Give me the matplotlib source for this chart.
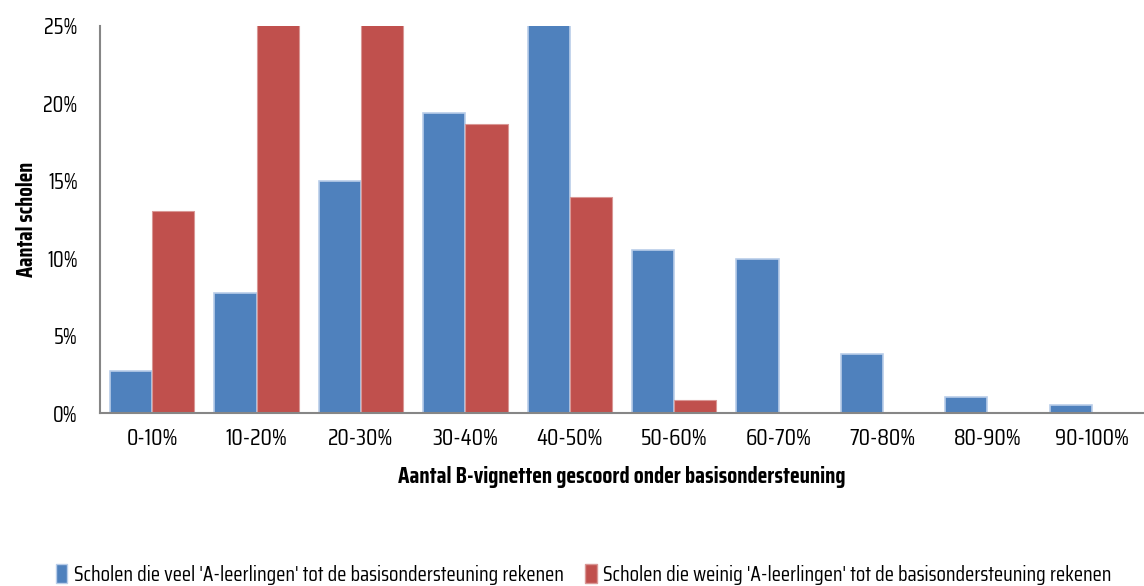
import numpy as np
import matplotlib
matplotlib.use("Agg")
import matplotlib.pyplot as plt
from matplotlib.patches import Patch

categories = ['0-10%', '10-20%', '20-30%', '30-40%', '40-50%',
              '50-60%', '60-70%', '70-80%', '80-90%', '90-100%']
veel = [2.7, 7.75, 15.0, 19.4, 27.0, 10.5, 9.95, 3.8, 1.03, 0.5]
weinig = [13.05, 27.0, 26.5, 18.7, 13.95, 0.85, 0, 0, 0, 0]
yticks = [0, 5, 10, 15, 20, 25]

label_veel = "Scholen die veel 'A-leerlingen' tot de basisondersteuning rekenen"
label_weinig = "Scholen die weinig 'A-leerlingen' tot de basisondersteuning rekenen"

plt.rcParams['font.family'] = ['Saira Condensed', 'DejaVu Sans']

blue = '#4f81bd'
red = '#c0504d'

fig = plt.figure(figsize=(11.44, 5.86), dpi=100)
ax = fig.add_axes([100 / 1144, 173 / 586, 1 - 100 / 1144, 387 / 586])

x = np.arange(len(categories))
w = 0.405
ax.bar(x - w / 2, veel, width=w, color=blue, edgecolor='#b9cde9', linewidth=1.2, zorder=2)
ax.bar(x + w / 2, weinig, width=w, color=red, edgecolor='#d99795', linewidth=0.8, zorder=2)

ax.set_xlim(-0.5, len(categories) - 0.5)
ax.set_ylim(0, 25)
ax.set_yticks(yticks)
ax.set_yticklabels([f'{t}%' for t in yticks], fontsize=16)
ax.set_xticks(x)
ax.set_xticklabels(categories, fontsize=17)
ax.tick_params(length=0)
ax.tick_params(axis='x', pad=11)
ax.tick_params(axis='y', pad=16)

for s in ['top', 'right']:
    ax.spines[s].set_visible(False)
for s in ['left', 'bottom']:
    ax.spines[s].set_color('#868686')
    ax.spines[s].set_linewidth(1.5)

ax.set_xlabel('Aantal B-vignetten gescoord onder basisondersteuning',
              fontsize=16.5, fontweight='bold', labelpad=12)
ax.set_ylabel('Aantal scholen', fontsize=16, fontweight='bold', labelpad=4)

handles = [Patch(facecolor=blue, edgecolor='#b9cde9'), Patch(facecolor=red, edgecolor='#d99795')]
fig.legend(handles, [label_veel, label_weinig], loc='center', bbox_to_anchor=(0.51, 0.02),
           ncol=2, frameon=False, fontsize=15.3, handlelength=0.55, handleheight=1.0,
           handletextpad=0.3, columnspacing=1.0)

fig.savefig('out.png', dpi=100)
